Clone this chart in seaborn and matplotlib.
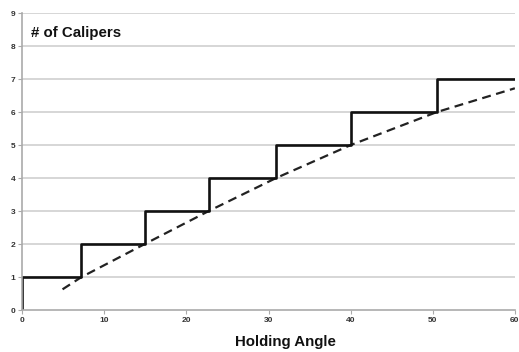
import numpy as np
import pandas as pd
import seaborn as sns
import matplotlib.pyplot as plt

# step series: number of calipers vs holding angle
step_angle = [0, 0, 7.2, 14.9, 22.7, 30.9, 40.0, 50.5, 60]
step_count = [0, 1, 2, 3, 4, 5, 6, 7, 7]

# dashed curve
curve_angle = [4.9, 7.2, 14.9, 22.7, 30.9, 40.0, 50.5, 60]
curve_count = [0.63, 1.0, 2.0, 3.0, 4.0, 5.0, 6.0, 6.72]

x_ticks = [0, 10, 20, 30, 40, 50, 60]
y_ticks = list(range(10))

sns.set_theme(style='white')
plt.rcParams['font.family'] = ['Liberation Sans', 'DejaVu Sans']

fig = plt.figure(figsize=(5.19, 3.52), dpi=100)
ax = fig.add_axes([0.043, 0.119, 0.949, 0.844])

for y in y_ticks[1:]:
    ax.axhline(y, color='#cfcfcf', lw=1.2, zorder=0)

df_step = pd.DataFrame({'angle': step_angle, 'count': step_count})
df_curve = pd.DataFrame({'angle': curve_angle, 'count': curve_count})

sns.lineplot(data=df_curve, x='angle', y='count', ax=ax, sort=False,
             estimator=None, color='#222222', lw=1.6, linestyle=(0, (4, 2.5)))
sns.lineplot(data=df_step, x='angle', y='count', ax=ax, sort=False,
             estimator=None, color='#111111', lw=1.9, drawstyle='steps-post')

ax.set_xlim(0, 60)
ax.set_ylim(0, 9)
ax.set_xticks(x_ticks)
ax.set_yticks(y_ticks)
ax.tick_params(axis='both', labelsize=6, colors='#333333', length=3,
               width=0.8, pad=2, bottom=True, left=True)
for lab in ax.get_xticklabels() + ax.get_yticklabels():
    lab.set_fontweight('bold')
ax.tick_params(axis='both', color='#aaaaaa')

for side in ['top', 'right']:
    ax.spines[side].set_visible(False)
for side in ['left', 'bottom']:
    ax.spines[side].set_color('#aaaaaa')
    ax.spines[side].set_linewidth(1.2)

ax.set_xlabel('Holding Angle', fontsize=10.8, fontweight='bold', color='#111111')
ax.xaxis.set_label_coords(0.535, -0.085)
ax.set_ylabel('')
ax.text(0.017, 0.955, '# of Calipers', transform=ax.transAxes, fontsize=10.8,
        fontweight='bold', color='#111111', va='top', ha='left')

fig.savefig('out.png', dpi=100)
